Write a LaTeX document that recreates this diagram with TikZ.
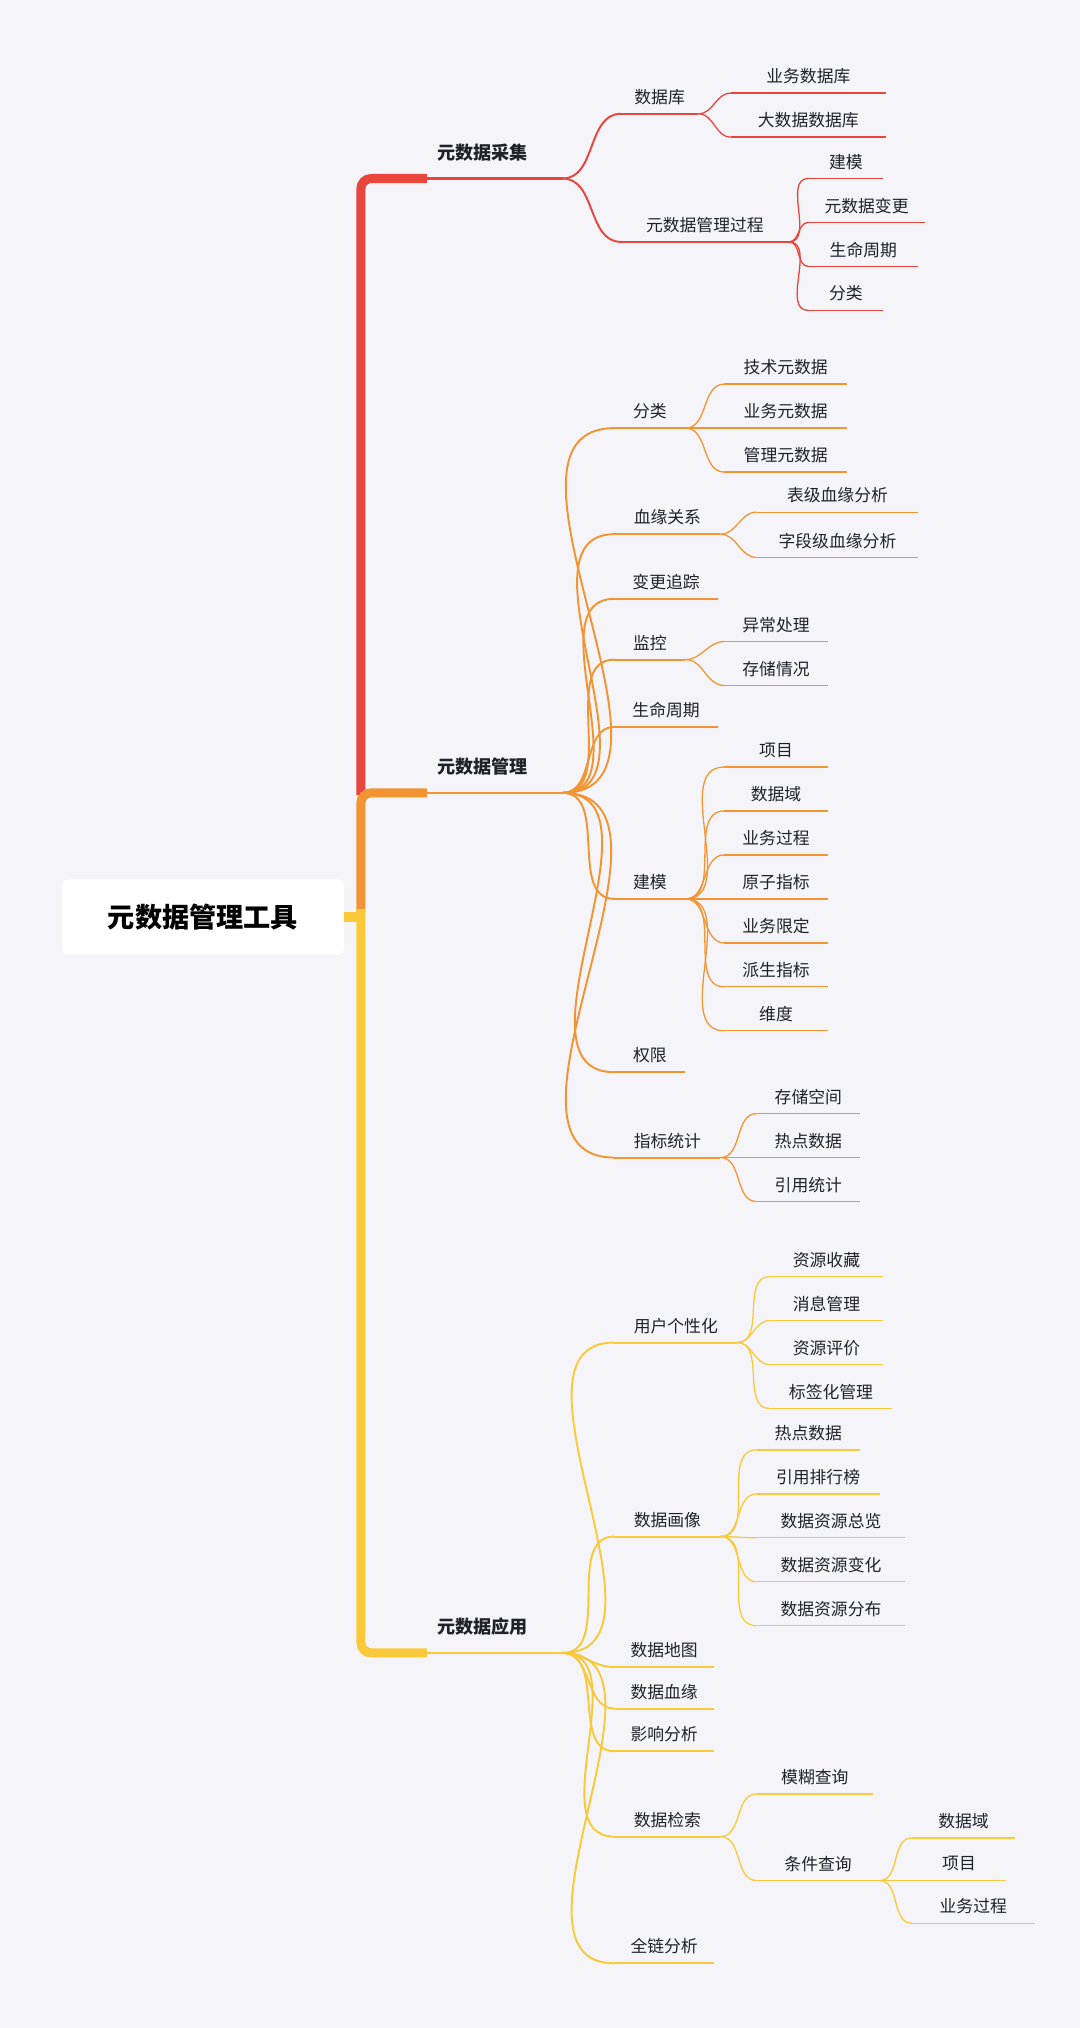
\documentclass[tikz,border=0pt]{standalone}
\usepackage{fontspec}
\setmainfont{Noto Sans CJK SC}
\definecolor{bg}{HTML}{F5F5F9}
\definecolor{cr}{HTML}{E8453C}
\definecolor{co}{HTML}{F39433}
\definecolor{cy}{HTML}{F9C93A}
\definecolor{tx}{HTML}{1F2329}
\tikzset{lbl/.style={text=tx,font=\fontsize{13}{15}\selectfont,inner sep=0pt},
 R1/.style={cr,line width=2pt},R2/.style={cr,line width=1.5pt},R3/.style={cr,line width=1pt},
 O1/.style={co,line width=2pt},O2/.style={co,line width=1.5pt},O3/.style={co,line width=1pt},
 Y1/.style={cy,line width=2pt},Y2/.style={cy,line width=1.5pt},Y3/.style={cy,line width=1pt}}
\newcommand\mn[6]{\coordinate (#1-s) at (#2,#4);\coordinate (#1-e) at (#3,#4);
 \draw[#6] (#1-s) -- (#1-e);
 \node[lbl] (#1) at ({(#2+#3)/2},#4-13) {#5};}
\newcommand\cn[3]{\draw[#3] (#1-e) to[out=0,in=180] (#2-s);}
\begin{document}
\begin{tikzpicture}[x=1pt,y=-1pt]
\fill[bg] (0,0) rectangle (835,1568);
\useasboundingbox (0,0) rectangle (835,1568);
% root
\node[fill=white,rounded corners=4pt,minimum width=218pt,minimum height=58pt,inner sep=0pt,text=black,font=\fontsize{21}{24}\selectfont\bfseries] (root) at (157,709) {元数据管理工具};
% trunk
\draw[cr,line width=7pt,rounded corners=8pt] (330,138) -| (279,615);
\draw[co,line width=7pt,rounded corners=8pt] (330,613) -| (279,705);
\draw[cy,line width=7pt,rounded corners=8pt] (330,1278) -| (279,703);
\coordinate (stub) at (279,709);
\draw[cy,line width=7pt] (root.east) -- (stub);
% level 1
\coordinate (a-s) at (282,138);\coordinate (a-e) at (435,138);\draw[R1] (a-s)--(a-e);
\node[lbl,font=\fontsize{14}{16}\selectfont\bfseries] (a) at (373,118) {元数据采集};
\coordinate (b-s) at (282,613);\coordinate (b-e) at (435,613);\draw[O1] (b-s)--(b-e);
\node[lbl,font=\fontsize{14}{16}\selectfont\bfseries] (b) at (373,593) {元数据管理};
\coordinate (c-s) at (282,1278);\coordinate (c-e) at (435,1278);\draw[Y1] (c-s)--(c-e);
\node[lbl,font=\fontsize{14}{16}\selectfont\bfseries] (c) at (373,1258) {元数据应用};
% 采集
\mn{a1}{480}{540}{88}{数据库}{R2}\cn{a}{a1}{R2}
\mn{a2}{480}{610}{187}{元数据管理过程}{R2}\cn{a}{a2}{R2}
\mn{a11}{565}{685}{72}{业务数据库}{R3}\cn{a1}{a11}{R3}
\mn{a12}{565}{685}{106}{大数据数据库}{R3}\cn{a1}{a12}{R3}
\mn{a21}{625}{683}{138}{建模}{R3}\cn{a2}{a21}{R3}
\mn{a22}{625}{715}{172}{元数据变更}{R3}\cn{a2}{a22}{R3}
\mn{a23}{625}{710}{206}{生命周期}{R3}\cn{a2}{a23}{R3}
\mn{a24}{625}{683}{240}{分类}{R3}\cn{a2}{a24}{R3}
% 管理
\mn{b1}{475}{530}{331}{分类}{O2}\cn{b}{b1}{O2}
\mn{b11}{560}{655}{297}{技术元数据}{O3}\cn{b1}{b11}{O3}
\mn{b12}{560}{655}{331}{业务元数据}{O3}\cn{b1}{b12}{O3}
\mn{b13}{560}{655}{365}{管理元数据}{O3}\cn{b1}{b13}{O3}
\mn{b2}{475}{557}{413}{血缘关系}{O2}\cn{b}{b2}{O2}
\mn{b21}{585}{710}{396}{表级血缘分析}{O3}\cn{b2}{b21}{O3}
\mn{b22}{585}{710}{431}{字段级血缘分析}{O3}\cn{b2}{b22}{O3}
\mn{b3}{475}{555}{463}{变更追踪}{O2}\cn{b}{b3}{O2}
\mn{b4}{475}{530}{510}{监控}{O2}\cn{b}{b4}{O2}
\mn{b41}{560}{640}{496}{异常处理}{O3}\cn{b4}{b41}{O3}
\mn{b42}{560}{640}{530}{存储情况}{O3}\cn{b4}{b42}{O3}
\mn{b5}{475}{555}{562}{生命周期}{O2}\cn{b}{b5}{O2}
\mn{b6}{475}{530}{695}{建模}{O2}\cn{b}{b6}{O2}
\mn{b61}{560}{640}{593}{项目}{O3}\cn{b6}{b61}{O3}
\mn{b62}{560}{640}{627}{数据域}{O3}\cn{b6}{b62}{O3}
\mn{b63}{560}{640}{661}{业务过程}{O3}\cn{b6}{b63}{O3}
\mn{b64}{560}{640}{695}{原子指标}{O3}\cn{b6}{b64}{O3}
\mn{b65}{560}{640}{729}{业务限定}{O3}\cn{b6}{b65}{O3}
\mn{b66}{560}{640}{763}{派生指标}{O3}\cn{b6}{b66}{O3}
\mn{b67}{560}{640}{797}{维度}{O3}\cn{b6}{b67}{O3}
\mn{b7}{475}{530}{829}{权限}{O2}\cn{b}{b7}{O2}
\mn{b8}{475}{557}{895}{指标统计}{O2}\cn{b}{b8}{O2}
\mn{b81}{585}{665}{861}{存储空间}{O3}\cn{b8}{b81}{O3}
\mn{b82}{585}{665}{895}{热点数据}{O3}\cn{b8}{b82}{O3}
\mn{b83}{585}{665}{929}{引用统计}{O3}\cn{b8}{b83}{O3}
% 应用
\mn{c1}{475}{570}{1038}{用户个性化}{Y2}\cn{c}{c1}{Y2}
\mn{c11}{595}{683}{987}{资源收藏}{Y3}\cn{c1}{c11}{Y3}
\mn{c12}{595}{683}{1021}{消息管理}{Y3}\cn{c1}{c12}{Y3}
\mn{c13}{595}{683}{1055}{资源评价}{Y3}\cn{c1}{c13}{Y3}
\mn{c14}{595}{690}{1089}{标签化管理}{Y3}\cn{c1}{c14}{Y3}
\mn{c2}{475}{557}{1188}{数据画像}{Y2}\cn{c}{c2}{Y2}
\mn{c21}{585}{665}{1121}{热点数据}{Y3}\cn{c2}{c21}{Y3}
\mn{c22}{585}{680}{1155}{引用排行榜}{Y3}\cn{c2}{c22}{Y3}
\mn{c23}{585}{700}{1189}{数据资源总览}{Y3}\cn{c2}{c23}{Y3}
\mn{c24}{585}{700}{1223}{数据资源变化}{Y3}\cn{c2}{c24}{Y3}
\mn{c25}{585}{700}{1257}{数据资源分布}{Y3}\cn{c2}{c25}{Y3}
\mn{c3}{475}{552}{1289}{数据地图}{Y2}\cn{c}{c3}{Y2}
\mn{c4}{475}{552}{1321}{数据血缘}{Y2}\cn{c}{c4}{Y2}
\mn{c5}{475}{552}{1354}{影响分析}{Y2}\cn{c}{c5}{Y2}
\mn{c6}{475}{557}{1420}{数据检索}{Y2}\cn{c}{c6}{Y2}
\mn{c61}{585}{675}{1387}{模糊查询}{Y3}\cn{c6}{c61}{Y3}
\mn{c62}{585}{680}{1454}{条件查询}{Y3}\cn{c6}{c62}{Y3}
\mn{c621}{705}{785}{1421}{数据域}{Y3}\cn{c62}{c621}{Y3}
\mn{c622}{705}{778}{1454}{项目}{Y3}\cn{c62}{c622}{Y3}
\mn{c623}{705}{800}{1487}{业务过程}{Y3}\cn{c62}{c623}{Y3}
\mn{c7}{475}{552}{1518}{全链分析}{Y2}\cn{c}{c7}{Y2}
\end{tikzpicture}
\end{document}
